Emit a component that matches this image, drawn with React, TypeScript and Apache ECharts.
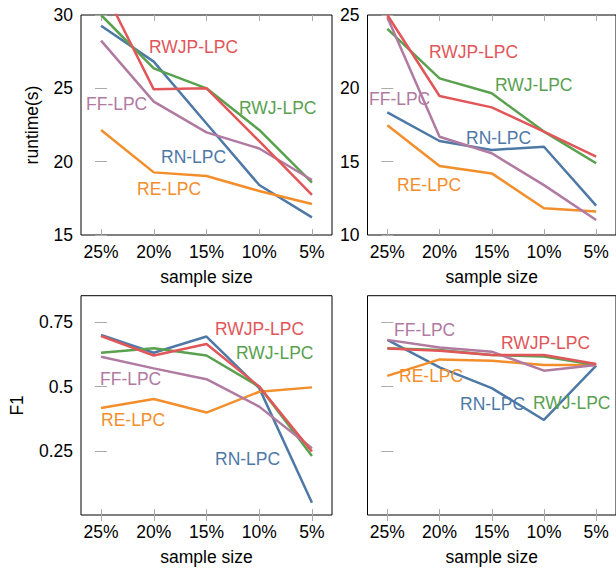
import React, { useEffect, useRef } from "react";
import * as echarts from "echarts";

const categories = ["25%", "20%", "15%", "10%", "5%"];
const seriesNames = ["RN-LPC", "RE-LPC", "RWJ-LPC", "FF-LPC", "RWJP-LPC"];
const seriesColors = ["#4e79a7", "#f28e2b", "#59a14f", "#b07aa1", "#e15759"];

// Panel 1: runtime (dataset A)
const rtA_RN = [29.27, 26.82, 22.6, 18.41, 16.2];
const rtA_RE = [22.16, 19.27, 19.02, 18.0, 17.11];
const rtA_RWJ = [30.0, 26.36, 25.0, 22.16, 18.57];
const rtA_FF = [28.25, 24.09, 22.0, 20.9, 18.75];
const rtA_RWJP = [32.1, 24.93, 25.0, 21.4, 17.73];

// Panel 2: runtime (dataset B)
const rtB_RN = [18.36, 16.41, 15.8, 16.02, 12.0];
const rtB_RE = [17.48, 14.7, 14.2, 11.82, 11.6];
const rtB_RWJ = [24.05, 20.68, 19.66, 17.05, 14.89];
const rtB_FF = [24.85, 16.7, 15.57, 13.4, 11.02];
const rtB_RWJP = [25.0, 19.48, 18.7, 17.05, 15.34];

// Panel 3: F1 (dataset A)
const f1A_RN = [0.701, 0.632, 0.695, 0.494, 0.048];
const f1A_RE = [0.417, 0.452, 0.399, 0.48, 0.497];
const f1A_RWJ = [0.632, 0.649, 0.621, 0.5, 0.23];
const f1A_FF = [0.616, 0.571, 0.529, 0.422, 0.26];
const f1A_RWJP = [0.697, 0.621, 0.666, 0.5, 0.247];

// Panel 4: F1 (dataset B)
const f1B_RN = [0.682, 0.575, 0.494, 0.37, 0.582];
const f1B_RE = [0.542, 0.606, 0.601, 0.584, 0.584];
const f1B_RWJ = [0.649, 0.643, 0.623, 0.617, 0.584];
const f1B_FF = [0.682, 0.652, 0.636, 0.562, 0.584];
const f1B_RWJP = [0.648, 0.64, 0.623, 0.623, 0.588];

const panels = [
  [rtA_RN, rtA_RE, rtA_RWJ, rtA_FF, rtA_RWJP],
  [rtB_RN, rtB_RE, rtB_RWJ, rtB_FF, rtB_RWJP],
  [f1A_RN, f1A_RE, f1A_RWJ, f1A_FF, f1A_RWJP],
  [f1B_RN, f1B_RE, f1B_RWJ, f1B_FF, f1B_RWJP],
];

const yTicksRuntimeA = [15, 20, 25, 30];
const yTicksRuntimeB = [10, 15, 20, 25];
const yTicksF1 = [0.25, 0.5, 0.75];

const FONT = "Liberation Sans, Arial, Helvetica, sans-serif";
const FS = 17.5;

// label placements: [panel, seriesIndex, left x, center y]
const labelPlacements: [number, number, number, number][] = [
  [0, 4, 149, 47], [0, 2, 239, 108], [0, 3, 86, 104], [0, 0, 161, 157], [0, 1, 137, 189],
  [1, 4, 429, 52], [1, 2, 495, 85], [1, 3, 369, 99], [1, 0, 466, 138], [1, 1, 397, 185],
  [2, 4, 215, 329], [2, 2, 236, 353], [2, 3, 100, 379], [2, 1, 101, 420], [2, 0, 215, 459],
  [3, 3, 394, 330], [3, 4, 501, 343], [3, 1, 399, 376], [3, 0, 460, 404], [3, 2, 533, 403],
];

export default function App() {
  const ref = useRef<HTMLDivElement>(null);
  useEffect(() => {
    if (!ref.current) return;
    const chart = echarts.init(ref.current, null, { renderer: "svg" });

    const grids = [
      { left: 81, top: 15, width: 251, height: 220 },
      { left: 367.5, top: 15, width: 251, height: 220 },
      { left: 81, top: 295.7, width: 251, height: 219.3 },
      { left: 367.5, top: 295.7, width: 251, height: 219.3 },
    ].map((g) => ({ ...g, show: true, borderColor: "#000", borderWidth: 1, containLabel: false }));

    const tickStyle = { inside: true, length: 6, lineStyle: { color: "#aaa", width: 1 } };
    const xIdx = [0, 1, 2, 3, 4];
    const xAxes: any[] = [];
    const yAxes: any[] = [];
    const yRanges = [
      { min: 15, max: 30, ticks: yTicksRuntimeA, labels: true, name: "runtime(s)", gap: 40 },
      { min: 10, max: 25, ticks: yTicksRuntimeB, labels: true, name: "", gap: 40 },
      { min: 0, max: 0.854, ticks: yTicksF1, labels: true, name: "F1", gap: 55 },
      { min: 0, max: 0.854, ticks: yTicksF1, labels: false, name: "", gap: 40 },
    ];
    for (let i = 0; i < 4; i++) {
      xAxes.push({
        type: "value", gridIndex: i, position: "bottom", min: -0.38, max: 4.38,
        axisLine: { show: false }, splitLine: { show: false },
        axisTick: { ...tickStyle, customValues: xIdx },
        axisLabel: {
          customValues: xIdx, formatter: (v: number) => categories[Math.round(v)],
          margin: 8, fontSize: FS, color: "#000", fontFamily: FONT,
        },
        name: "sample size", nameLocation: "middle", nameGap: 33,
        nameTextStyle: { fontSize: FS, color: "#000", fontFamily: FONT },
      });
      xAxes.push({
        type: "value", gridIndex: i, position: "top", min: -0.38, max: 4.38,
        axisLine: { show: false }, splitLine: { show: false },
        axisTick: { ...tickStyle, customValues: xIdx },
        axisLabel: { show: false },
      });
      const r = yRanges[i];
      yAxes.push({
        type: "value", gridIndex: i, position: "left", min: r.min, max: r.max,
        axisLine: { show: false }, splitLine: { show: false },
        axisTick: { ...tickStyle, customValues: r.ticks },
        axisLabel: {
          show: r.labels, customValues: r.ticks, margin: 8,
          fontSize: FS, color: "#000", fontFamily: FONT,
        },
        name: r.name, nameLocation: "middle", nameGap: r.gap,
        nameTextStyle: { fontSize: FS, color: "#000", fontFamily: FONT },
      });
      yAxes.push({
        type: "value", gridIndex: i, position: "right", min: r.min, max: r.max,
        axisLine: { show: false }, splitLine: { show: false },
        axisTick: { ...tickStyle, customValues: r.ticks },
        axisLabel: { show: false },
      });
    }

    const series: any[] = [];
    panels.forEach((panel, p) => {
      panel.forEach((vals, s) => {
        series.push({
          type: "line", name: seriesNames[s],
          xAxisIndex: p * 2, yAxisIndex: p * 2,
          data: vals.map((v, i) => [i, v]),
          showSymbol: false, symbol: "none",
          lineStyle: { color: seriesColors[s], width: 2.5 },
          itemStyle: { color: seriesColors[s] },
          clip: true, z: 2 + s,
        });
      });
    });

    const graphic = labelPlacements.map(([p, s, x, y]) => ({
      type: "text", x, y, z: 100,
      style: {
        text: seriesNames[s], fill: seriesColors[s],
        font: `${FS}px ${FONT}`, textAlign: "left", textVerticalAlign: "middle",
      },
    }));

    chart.setOption({
      animation: false,
      backgroundColor: "#fff",
      grid: grids,
      xAxis: xAxes,
      yAxis: yAxes,
      series,
      graphic,
    });
    return () => chart.dispose();
  }, []);
  return (
    <div
      ref={ref}
      style={{ position: "absolute", left: 0, top: 0, width: 616, height: 569 }}
    />
  );
}
